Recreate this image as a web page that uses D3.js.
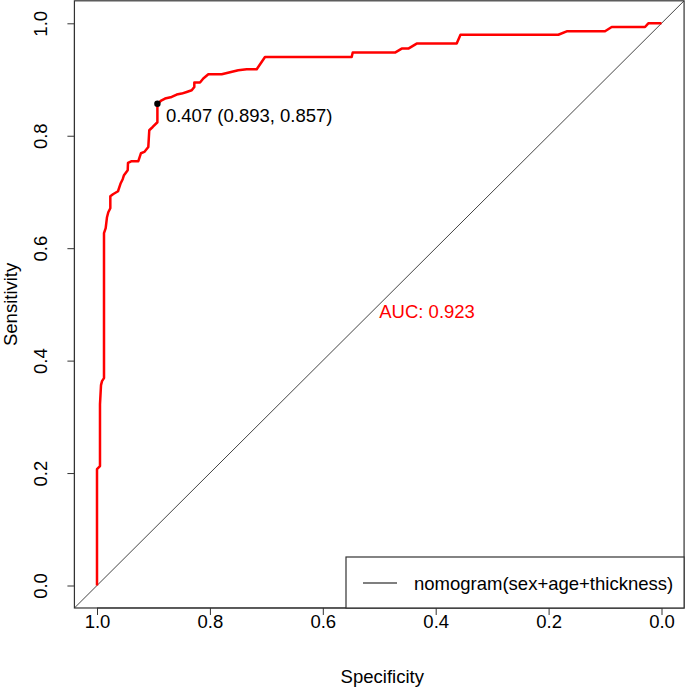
<!DOCTYPE html>
<html>
<head>
<meta charset="utf-8">
<script src="https://cdn.jsdelivr.net/npm/d3@7"></script>
<style>
  html, body { margin: 0; padding: 0; background: #fff; }
  svg { display: block; font-family: "Liberation Sans", Arial, sans-serif; }
</style>
</head>
<body>
<svg id="chart" width="685" height="687"></svg>
<script>
// ROC curve vertices (specificity, sensitivity)
const specificity = [1.000, 1.000, 0.9947, 0.9947, 0.9929, 0.9911, 0.9876, 0.9876, 0.9846, 0.9823, 0.9800, 0.9764, 0.9764, 0.9717, 0.9628, 0.9580, 0.9545, 0.9522, 0.9456, 0.9451, 0.9385, 0.9268, 0.9221, 0.9162, 0.9091, 0.9074, 0.9013, 0.893, 0.893, 0.8855, 0.8795, 0.8677, 0.8588, 0.8500, 0.8411, 0.8322, 0.8276, 0.8276, 0.8175, 0.8117, 0.8028, 0.7791, 0.7644, 0.7497, 0.7348, 0.7171, 0.7024, 0.5488, 0.5470, 0.4721, 0.4602, 0.4485, 0.4337, 0.3628, 0.3561, 0.1828, 0.1679, 0.1001, 0.0882, 0.0292, 0.0234, 0.000];
const sensitivity = [0.000, 0.207, 0.2124, 0.3227, 0.3564, 0.3636, 0.3689, 0.6267, 0.6356, 0.6551, 0.6640, 0.6711, 0.6924, 0.6960, 0.7013, 0.7156, 0.7227, 0.7298, 0.7387, 0.7516, 0.7547, 0.7547, 0.7689, 0.7712, 0.7801, 0.8098, 0.8156, 0.824, 0.857, 0.8631, 0.8661, 0.8690, 0.8732, 0.8750, 0.8779, 0.8809, 0.8868, 0.8946, 0.8946, 0.9017, 0.9093, 0.9093, 0.9129, 0.9164, 0.9182, 0.9182, 0.9401, 0.9401, 0.9479, 0.9479, 0.9550, 0.9550, 0.9639, 0.9639, 0.9796, 0.9796, 0.9858, 0.9858, 0.9934, 0.9934, 1.000, 1.000];
const ticks = [1.0, 0.8, 0.6, 0.4, 0.2, 0.0];
const tickLabels = ["1.0", "0.8", "0.6", "0.4", "0.2", "0.0"];
const bestThreshold = { thr: 0.407, spec: 0.893, sens: 0.857 };
const aucValue = 0.923;
const legendLabel = "nomogram(sex+age+thickness)";

const FS = 18.5;
const svg = d3.select("#chart");
const x = d3.scaleLinear().domain([1, 0]).range([97, 661.5]);
const y = d3.scaleLinear().domain([0, 1]).range([585.5, 23.3]);
const ext = 0.04;
const x0 = x(1 + ext), x1 = x(-ext), yTop = y(1 + ext), yBot = y(-ext);

// clip
svg.append("clipPath").attr("id", "clip").append("rect")
  .attr("x", x0).attr("y", yTop).attr("width", x1 - x0).attr("height", yBot - yTop);

// diagonal
svg.append("line")
  .attr("clip-path", "url(#clip)")
  .attr("x1", x(1 + ext)).attr("y1", y(-ext))
  .attr("x2", x(-ext)).attr("y2", y(1 + ext))
  .attr("stroke", "#444").attr("stroke-width", 1);

// ROC curve
const pts = specificity.map((s, i) => [s, sensitivity[i]]);
svg.append("path")
  .datum(pts)
  .attr("d", d3.line().x(d => x(d[0])).y(d => y(d[1])))
  .attr("fill", "none").attr("stroke", "#ff0000").attr("stroke-width", 2.5)
  .attr("stroke-linejoin", "round");

// box
svg.append("rect")
  .attr("x", x0).attr("y", yTop).attr("width", x1 - x0).attr("height", yBot - yTop)
  .attr("fill", "none").attr("stroke", "#333").attr("stroke-width", 1.2);

// x axis
const xAxis = d3.axisBottom(x).tickValues(ticks).tickSize(7).tickPadding(0)
  .tickFormat((d, i) => tickLabels[i]);
const gx = svg.append("g").attr("transform", `translate(0,${yBot})`).call(xAxis);
gx.select(".domain").attr("d", `M${x(1)},0H${x(0)}`).attr("stroke", "#333");
gx.selectAll(".tick line").attr("stroke", "#333");
gx.selectAll("text").attr("font-size", FS).attr("font-family", "Liberation Sans, Arial, sans-serif").attr("fill", "#000");

// y axis
const yAxis = d3.axisLeft(y).tickValues(ticks).tickSize(7).tickPadding(0)
  .tickFormat(d => d.toFixed(1));
const gy = svg.append("g").attr("transform", `translate(${x0},0)`).call(yAxis);
gy.select(".domain").attr("d", `M0,${y(0)}V${y(1)}`).attr("stroke", "#333");
gy.selectAll(".tick line").attr("stroke", "#333");
gy.selectAll("text")
  .attr("font-size", FS).attr("font-family", "Liberation Sans, Arial, sans-serif").attr("fill", "#000")
  .attr("text-anchor", "middle").attr("x", 0).attr("dy", null)
  .attr("transform", "translate(-32,0) rotate(-90)")
  .attr("dominant-baseline", "middle");

// axis titles
svg.append("text").attr("x", (x0 + x1) / 2 + 3).attr("y", 683)
  .attr("text-anchor", "middle").attr("font-size", FS).text("Specificity");
svg.append("text").attr("transform", `translate(17,${(yTop + yBot) / 2}) rotate(-90)`)
  .attr("text-anchor", "middle").attr("font-size", FS).text("Sensitivity");

// AUC
svg.append("text").attr("x", x(0.5)).attr("y", y(0.5) + 14)
  .attr("fill", "#ff0000").attr("font-size", FS)
  .text("AUC: " + aucValue.toFixed(3));

// threshold point
svg.append("circle").attr("cx", x(bestThreshold.spec)).attr("cy", y(bestThreshold.sens))
  .attr("r", 3.2).attr("fill", "#000");
svg.append("text").attr("x", x(bestThreshold.spec) + 8.5).attr("y", y(bestThreshold.sens) + 18)
  .attr("font-size", FS).attr("fill", "#000")
  .text(`${bestThreshold.thr.toFixed(3)} (${bestThreshold.spec.toFixed(3)}, ${bestThreshold.sens.toFixed(3)})`);

// legend
const lgX = 346, lgY = 557;
svg.append("rect").attr("x", lgX).attr("y", lgY).attr("width", x1 - lgX).attr("height", yBot - lgY)
  .attr("fill", "#fff").attr("stroke", "#333").attr("stroke-width", 1.2);
svg.append("line").attr("x1", 363).attr("x2", 397).attr("y1", 583).attr("y2", 583)
  .attr("stroke", "#000").attr("stroke-width", 1.2);
svg.append("text").attr("x", 414).attr("y", 589.5).attr("font-size", FS).text(legendLabel);
</script>
</body>
</html>
